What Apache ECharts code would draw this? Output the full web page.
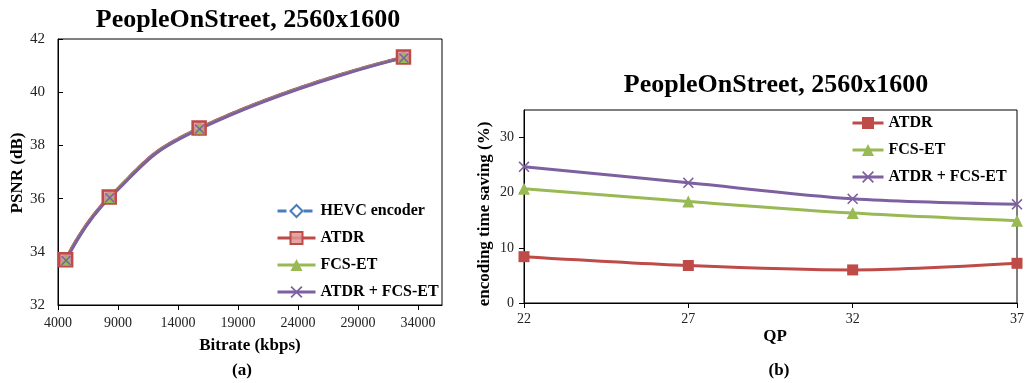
<!DOCTYPE html>
<html>
<head>
<meta charset="utf-8">
<script src="https://cdn.jsdelivr.net/npm/echarts@6/dist/echarts.min.js"></script>
<style>
html,body{margin:0;padding:0;background:#fff;}
#a{position:absolute;left:0;top:0;width:470px;height:383px;}
#b{position:absolute;left:470px;top:0;width:557px;height:383px;}
</style>
</head>
<body>
<div id="a"></div>
<div id="b"></div>
<script>
// ---- Data: chart (a) ----
const bitrateHEVC = [4650, 8280, 15750, 32780];
const psnrHEVC    = [33.69, 36.05, 38.64, 41.31];
const bitrateATDR = [4640, 8270, 15760, 32790];
const psnrATDR    = [33.70, 36.06, 38.65, 41.32];
const bitrateFCS  = [4660, 8300, 15780, 32800];
const psnrFCS     = [33.68, 36.04, 38.63, 41.30];
const bitrateBoth = [4670, 8310, 15800, 32820];
const psnrBoth    = [33.67, 36.03, 38.62, 41.29];
// ---- Data: chart (b) ----
const qpValues   = [22, 27, 32, 37];
const savingATDR = [8.4, 6.8, 6.0, 7.2];
const savingFCS  = [20.7, 18.4, 16.3, 14.9];
const savingBoth = [24.7, 21.8, 18.9, 17.9];

const FONT = '"Liberation Serif", "Times New Roman", serif';
const C_BLUE = '#4A7EBB', C_RED = '#BE4B48', C_GREEN = '#98B954', C_PURPLE = '#7D60A0';
const X_PATH = 'path://M0,1L1,0L5,4L9,0L10,1L6,5L10,9L9,10L5,6L1,10L0,9L4,5Z';

function pairs(xs, ys){ return xs.map((x,i)=>[x, ys[i]]); }

function txt(text, x, y, size, bold, rot){
  return {type:'text', x:x, y:y, rotation: rot||0, z:100,
    style:{text:text, font:(bold?'bold ':'')+size+'px '+FONT, fill:'#000',
      textAlign:'center', textVerticalAlign:'middle'}};
}

const chartA = echarts.init(document.getElementById('a'), null, {renderer:'canvas'});
chartA.setOption({
  animation:false,
  grid:{left:58, top:39, width:384, height:266, show:true, borderColor:'#000', borderWidth:1, backgroundColor:'transparent'},
  xAxis:{type:'value', min:4000, max:36000, interval:5000,
    axisLine:{show:true, lineStyle:{color:'#000', width:1}},
    axisTick:{show:true, inside:false, length:5, lineStyle:{color:'#000'}},
    axisLabel:{fontFamily:FONT, fontSize:14, color:'#222', margin:11, showMaxLabel:false,
      formatter:function(v){ return String(v); }},
    splitLine:{show:false}},
  yAxis:{type:'value', min:32, max:42, interval:2,
    axisLine:{show:true, lineStyle:{color:'#000', width:1}},
    axisTick:{show:true, inside:true, length:5, lineStyle:{color:'#000'}},
    axisLabel:{fontFamily:FONT, fontSize:15, color:'#222', margin:13},
    splitLine:{show:false}},
  legend:{orient:'vertical', left:276, top:203, padding:0, itemWidth:38, itemHeight:15, itemGap:11,
    lineStyle:{width:3},
    textStyle:{fontFamily:FONT, fontSize:16, fontWeight:'bold', color:'#000', lineHeight:16},
    data:['HEVC encoder','ATDR','FCS-ET','ATDR + FCS-ET']},
  series:[
    {name:'HEVC encoder', type:'line', smooth:0.5, data:pairs(bitrateHEVC, psnrHEVC),
      symbol:'diamond', symbolSize:11,
      lineStyle:{color:C_BLUE, width:3, type:[9,4]},
      itemStyle:{color:'#fff', borderColor:C_BLUE, borderWidth:2.5}},
    {name:'ATDR', type:'line', smooth:0.5, data:pairs(bitrateATDR, psnrATDR),
      symbol:'rect', symbolSize:13,
      lineStyle:{color:C_RED, width:3},
      itemStyle:{color:'rgba(222,150,148,0.85)', borderColor:C_RED, borderWidth:2.5}},
    {name:'FCS-ET', type:'line', smooth:0.5, data:pairs(bitrateFCS, psnrFCS),
      symbol:'triangle', symbolSize:11,
      lineStyle:{color:C_GREEN, width:3},
      itemStyle:{color:C_GREEN}},
    {name:'ATDR + FCS-ET', type:'line', smooth:0.5, data:pairs(bitrateBoth, psnrBoth),
      symbol:X_PATH, symbolSize:10,
      lineStyle:{color:C_PURPLE, width:3},
      itemStyle:{color:C_PURPLE}}
  ],
  graphic:[
    txt('PeopleOnStreet, 2560x1600', 248, 20, 26, true),
    txt('PSNR (dB)', 18, 173, 17, true, Math.PI/2),
    txt('Bitrate (kbps)', 250, 346, 17, true),
    txt('(a)', 242, 371, 17, true)
  ]
});

const chartB = echarts.init(document.getElementById('b'), null, {renderer:'canvas'});
chartB.setOption({
  animation:false,
  grid:{left:54, top:110, width:498, height:193, show:true, borderColor:'#000', borderWidth:1, backgroundColor:'transparent'},
  xAxis:{type:'value', min:22, max:37, interval:5,
    axisLine:{show:true, lineStyle:{color:'#000', width:1}},
    axisTick:{show:true, inside:false, length:5, lineStyle:{color:'#000'}},
    axisLabel:{fontFamily:FONT, fontSize:14, color:'#222', margin:9},
    splitLine:{show:false}},
  yAxis:{type:'value', min:0, max:35, interval:10,
    axisLine:{show:true, lineStyle:{color:'#000', width:1}},
    axisTick:{show:true, inside:false, length:5, lineStyle:{color:'#000'}},
    axisLabel:{fontFamily:FONT, fontSize:14, color:'#222', margin:10, showMaxLabel:false},
    splitLine:{show:false}},
  legend:{orient:'vertical', left:381, top:115, padding:0, itemWidth:31, itemHeight:15, itemGap:11,
    lineStyle:{width:3},
    textStyle:{fontFamily:FONT, fontSize:16, fontWeight:'bold', color:'#000', lineHeight:16},
    data:['ATDR','FCS-ET','ATDR + FCS-ET']},
  series:[
    {name:'ATDR', type:'line', smooth:0.3, clip:false, data:pairs(qpValues, savingATDR),
      symbol:'rect', symbolSize:11,
      lineStyle:{color:C_RED, width:3}, itemStyle:{color:C_RED}},
    {name:'FCS-ET', type:'line', smooth:0.3, clip:false, data:pairs(qpValues, savingFCS),
      symbol:'triangle', symbolSize:12,
      lineStyle:{color:C_GREEN, width:3}, itemStyle:{color:C_GREEN}},
    {name:'ATDR + FCS-ET', type:'line', smooth:0.3, clip:false, data:pairs(qpValues, savingBoth),
      symbol:X_PATH, symbolSize:11,
      lineStyle:{color:C_PURPLE, width:3}, itemStyle:{color:C_PURPLE}}
  ],
  graphic:[
    txt('PeopleOnStreet, 2560x1600', 306, 85, 26, true),
    txt('encoding time saving (%)', 15, 214, 17, true, Math.PI/2),
    txt('QP', 305, 337, 17, true),
    txt('(b)', 309, 371, 17, true)
  ]
});
</script>
</body>
</html>
